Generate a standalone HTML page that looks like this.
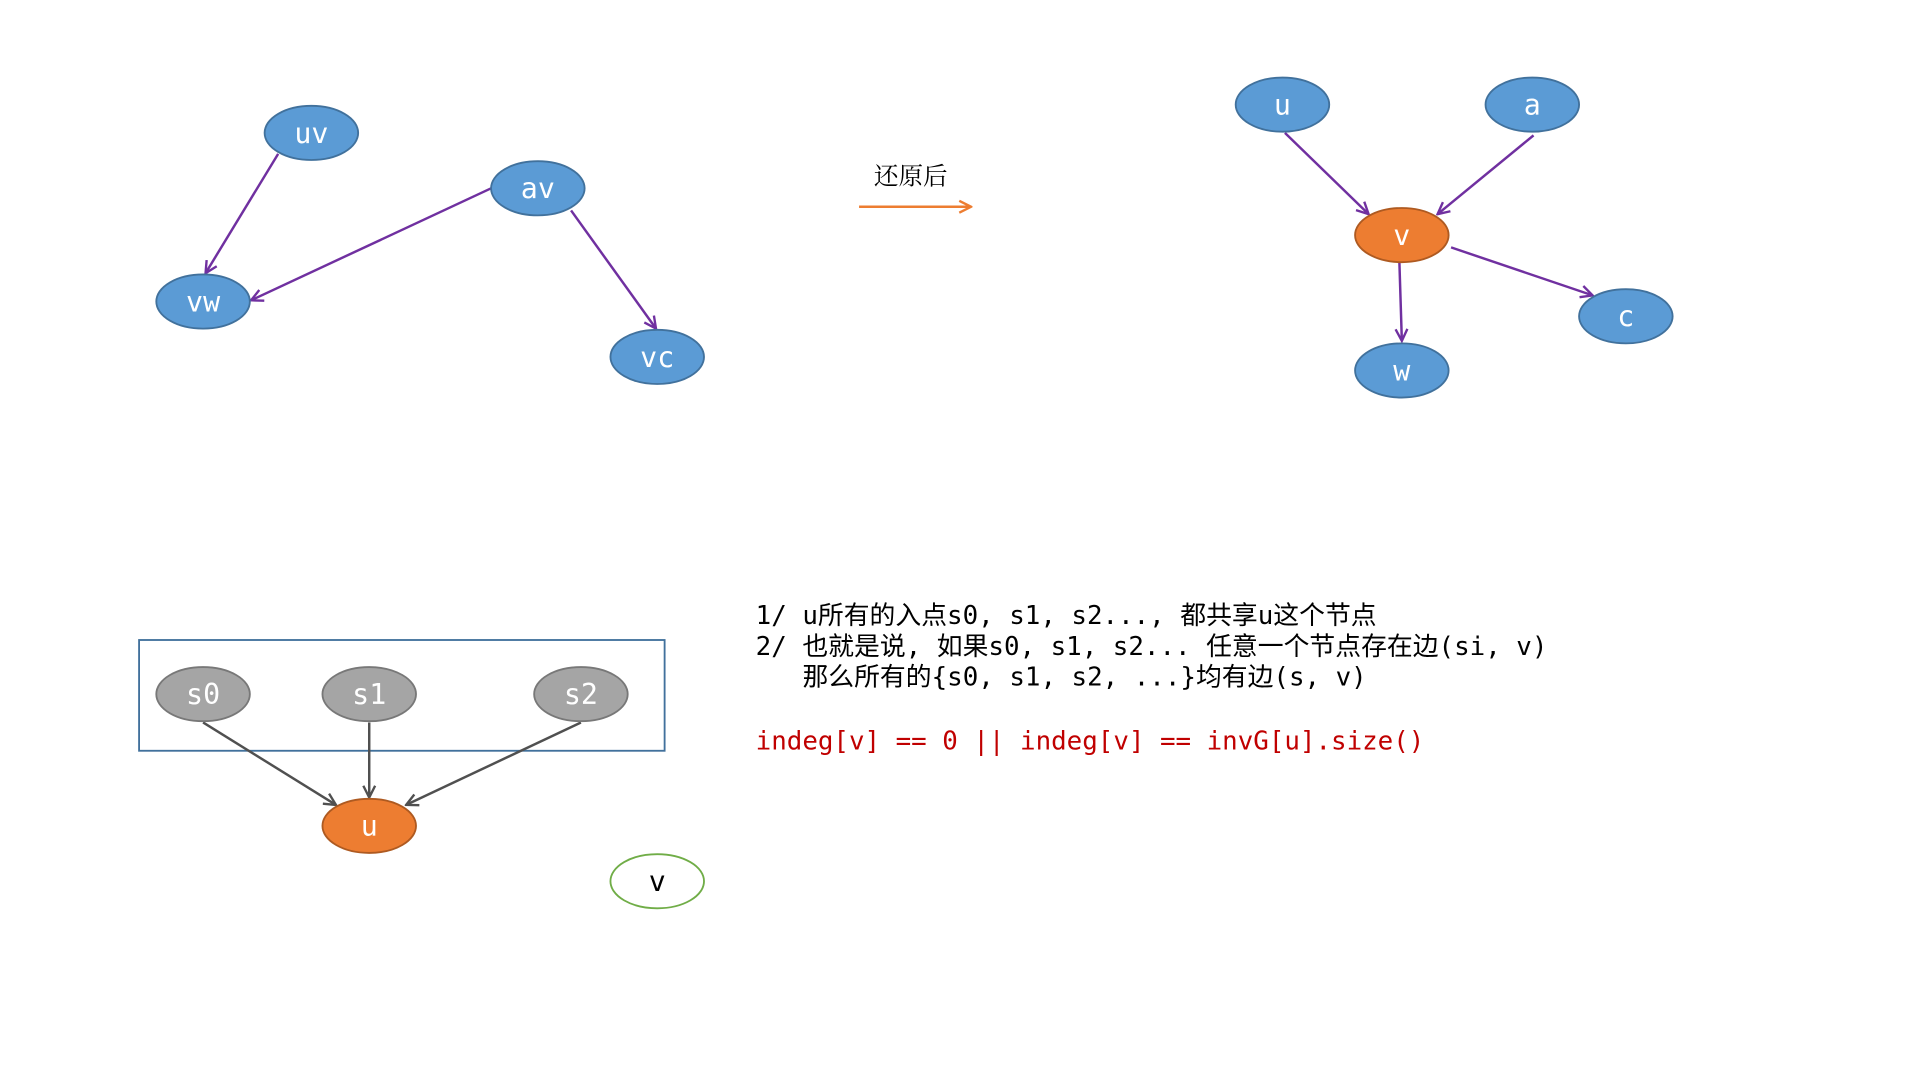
<!DOCTYPE html>
<html><head><meta charset="utf-8"><style>html,body{margin:0;padding:0;background:#fff;}svg{display:block}</style></head>
<body>
<svg width="1920" height="1080" viewBox="0 0 1560 877.5" preserveAspectRatio="none" xmlns="http://www.w3.org/2000/svg">
<defs>
<marker id="ap" viewBox="0 0 10 10" refX="9" refY="5" markerWidth="12" markerHeight="12" orient="auto" markerUnits="userSpaceOnUse"><path d="M1,1 L9,5 L1,9" fill="none" stroke="#7030a0" stroke-width="1.6"/></marker>
<marker id="ag" viewBox="0 0 10 10" refX="9" refY="5" markerWidth="12" markerHeight="12" orient="auto" markerUnits="userSpaceOnUse"><path d="M1,1 L9,5 L1,9" fill="none" stroke="#505050" stroke-width="1.6"/></marker>
<marker id="ao" viewBox="0 0 10 10" refX="9" refY="5" markerWidth="12" markerHeight="12" orient="auto" markerUnits="userSpaceOnUse"><path d="M1,1 L9,5 L1,9" fill="none" stroke="#ed7d31" stroke-width="1.6"/></marker>
</defs>
<g font-family="DejaVu Sans Mono, monospace" font-size="23" text-anchor="middle">
<g stroke="#7030a0" stroke-width="2" fill="none" marker-end="url(#ap)">
<line x1="226" y1="125" x2="167" y2="222"/>
<line x1="399" y1="153" x2="204" y2="244"/>
<line x1="464" y1="171" x2="533" y2="267"/>
<line x1="1044" y1="108" x2="1112" y2="174"/>
<line x1="1246" y1="110" x2="1168" y2="174"/>
<line x1="1137" y1="213" x2="1139" y2="277"/>
<line x1="1179" y1="201" x2="1294" y2="240"/>
</g>
<g fill="#5b9bd5" stroke="#41719c" stroke-width="1.5">
<ellipse cx="253" cy="108" rx="38" ry="22"/>
<ellipse cx="437" cy="153" rx="38" ry="22"/>
<ellipse cx="165" cy="245" rx="38" ry="22"/>
<ellipse cx="534" cy="290" rx="38" ry="22"/>
<ellipse cx="1042" cy="85" rx="38" ry="22"/>
<ellipse cx="1245" cy="85" rx="38" ry="22"/>
<ellipse cx="1139" cy="301" rx="38" ry="22"/>
<ellipse cx="1321" cy="257" rx="38" ry="22"/>
</g>
<ellipse cx="1139" cy="191" rx="38" ry="22" fill="#ed7d31" stroke="#ae5a21" stroke-width="1.5"/>
<g fill="#fff">
<text x="253" y="116">uv</text><text x="437" y="161">av</text><text x="165" y="253">vw</text><text x="534" y="298">vc</text>
<text x="1042" y="93">u</text><text x="1245" y="93">a</text><text x="1139" y="309">w</text><text x="1321" y="265">c</text><text x="1139" y="199">v</text>
</g>
<rect x="113" y="520" width="427" height="90" fill="none" stroke="#41719c" stroke-width="1.5"/>
<g stroke="#505050" stroke-width="2" fill="none" marker-end="url(#ag)">
<line x1="165" y1="587" x2="273" y2="654"/>
<line x1="300" y1="587" x2="300" y2="648"/>
<line x1="472" y1="587" x2="330" y2="654"/>
</g>
<g fill="#a5a5a5" stroke="#787878" stroke-width="1.5">
<ellipse cx="165" cy="564" rx="38" ry="22"/>
<ellipse cx="300" cy="564" rx="38" ry="22"/>
<ellipse cx="472" cy="564" rx="38" ry="22"/>
</g>
<ellipse cx="300" cy="671" rx="38" ry="22" fill="#ed7d31" stroke="#ae5a21" stroke-width="1.5"/>
<ellipse cx="534" cy="716" rx="38" ry="22" fill="#fff" stroke="#70ad47" stroke-width="1.5"/>
<g fill="#fff"><text x="165" y="572">s0</text><text x="300" y="572">s1</text><text x="472" y="572">s2</text><text x="300" y="679">u</text></g>
<text x="534" y="724" fill="#000">v</text>
</g>
<text x="740" y="150" font-family="Liberation Serif, Noto Serif CJK SC, serif" font-size="20" text-anchor="middle" fill="#000">还原后</text>
<line x1="698" y1="168" x2="789" y2="168" stroke="#ed7d31" stroke-width="2" marker-end="url(#ao)"/>
<g font-family="DejaVu Sans Mono, Noto Sans CJK SC, monospace" font-size="21" fill="#000">
<text x="614" y="507">1/ u所有的入点s0, s1, s2..., 都共享u这个节点</text>
<text x="614" y="532">2/ 也就是说, 如果s0, s1, s2... 任意一个节点存在边(si, v)</text>
<text x="652" y="557">那么所有的{s0, s1, s2, ...}均有边(s, v)</text>
<text x="614" y="609" fill="#c00000">indeg[v] == 0 || indeg[v] == invG[u].size()</text>
</g>
</svg>
</body></html>
